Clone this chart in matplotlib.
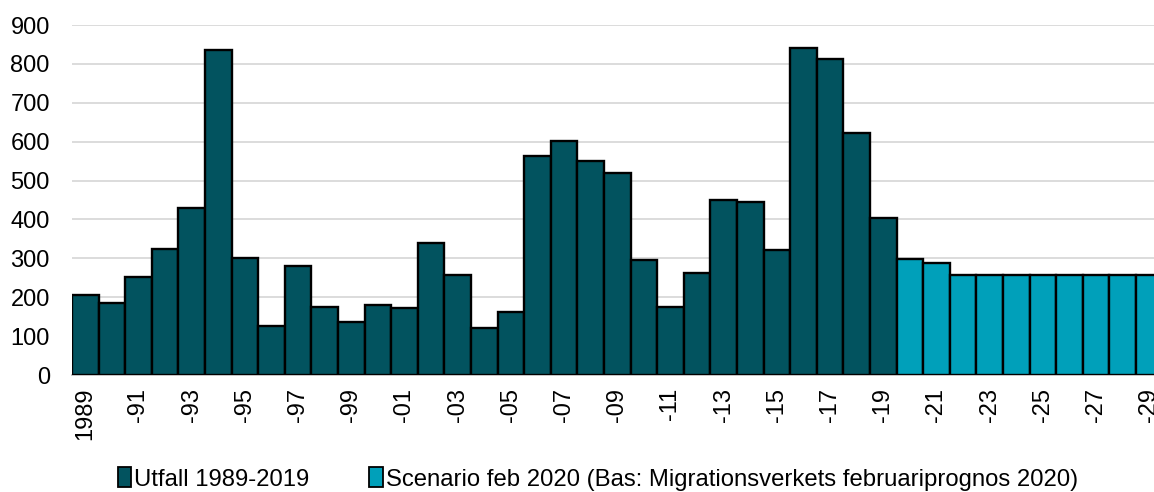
import numpy as np
import matplotlib.pyplot as plt
from matplotlib.patches import Patch

plt.rcParams['font.family'] = ['Liberation Sans', 'DejaVu Sans']

# Data
years_outcome = list(range(1989, 2020))
outcome = [207, 185, 252, 324, 430, 836, 302, 125, 281, 175, 137, 179, 172, 340,
           258, 120, 163, 562, 602, 551, 519, 296, 176, 262, 450, 446, 322, 842,
           813, 623, 403]
years_scenario = list(range(2020, 2030))
scenario = [298, 287, 258, 258, 258, 258, 258, 258, 258, 258]

label_outcome = 'Utfall 1989-2019'
label_scenario = 'Scenario feb 2020 (Bas: Migrationsverkets februariprognos 2020)'

dark = '#02535F'
light = '#00A0BA'

years = years_outcome + years_scenario
x_out = np.arange(len(years_outcome))
x_scn = np.arange(len(years_outcome), len(years))

fig = plt.figure(figsize=(11.54, 4.92), dpi=100)
ax = fig.add_axes([72 / 1154, 1 - 375 / 492, (1154 - 72) / 1154, 350 / 492])

ax.bar(x_out, outcome, width=1.0, color=dark, edgecolor='black', linewidth=1.7, zorder=3)
ax.bar(x_scn, scenario, width=1.0, color=light, edgecolor='black', linewidth=1.7, zorder=3)

ax.set_ylim(0, 900)
ax.set_yticks(range(0, 901, 100))
ax.set_xlim(-0.5, 40.18)
ax.grid(axis='y', color='#D9D9D9', linewidth=1.3, zorder=0)

# label every other year, the cut "-29" at the right edge is as in the original
ticks = np.arange(0, len(years), 2)
labels = ['1989' if years[i] == 1989 else '-%02d' % (years[i] % 100) for i in ticks]
ax.set_xticks(ticks)
ax.set_xticklabels(labels, rotation=90, fontsize=17)
ax.tick_params(axis='y', labelsize=17, length=0, pad=16)
ax.tick_params(axis='x', length=0, pad=9)

for s in ['top', 'right', 'left']:
    ax.spines[s].set_visible(False)
ax.spines['bottom'].set_color('#BFBFBF')
ax.spines['bottom'].set_linewidth(1.3)

handles = [Patch(facecolor=dark, edgecolor='black', linewidth=1.3, label=label_outcome),
           Patch(facecolor=light, edgecolor='black', linewidth=1.3, label=label_scenario)]
fig.legend(handles=handles, loc='center', bbox_to_anchor=(598 / 1154, 1 - 479 / 492),
           ncol=2, frameon=False, fontsize=17.2, handlelength=0.55, handleheight=0.9,
           handletextpad=0.15, columnspacing=2.5)

fig.savefig('out.png', dpi=100)
